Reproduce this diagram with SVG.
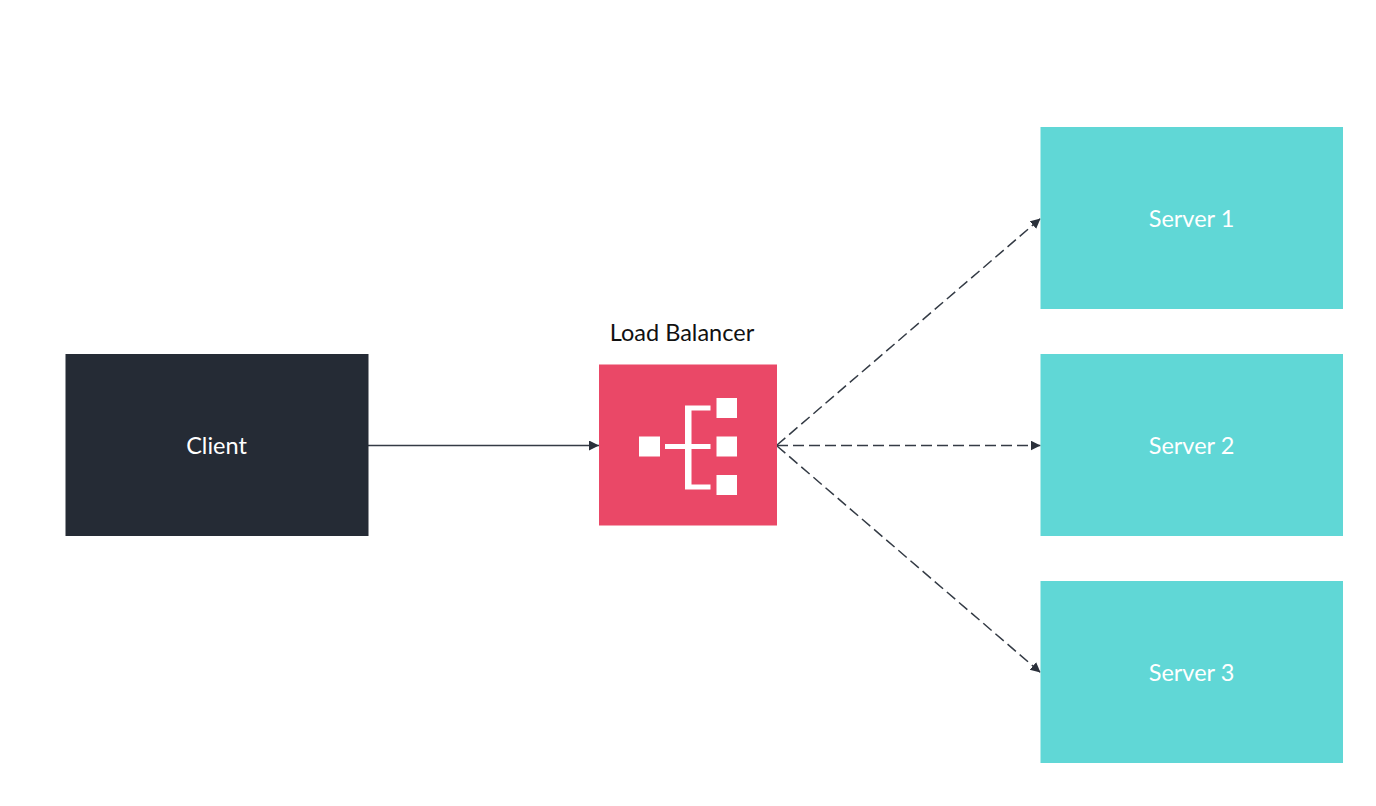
<svg xmlns="http://www.w3.org/2000/svg" width="1376" height="806" viewBox="0 0 1376 806">
  <style>
    .label { font-family: "Lato", "Open Sans", sans-serif; font-size: 23.5px; text-anchor: middle; fill: #ffffff; }
    .server { fill: #60d7d6; }
    .conn { fill: none; stroke: #343b45; stroke-width: 1.5; }
    .dash { stroke-dasharray: 11 5; }
    .icon { fill: #ffffff; }
  </style>
  <defs>
    <marker id="arrow" markerUnits="userSpaceOnUse" markerWidth="12" markerHeight="12" refX="10" refY="5" orient="auto">
      <path d="M0 0 L10 5 L0 10 Z" fill="#2b313b"/>
    </marker>
  </defs>
  <rect width="1376" height="806" fill="#ffffff"/>
  <g id="connectors">
    <line class="conn" x1="368" y1="445.5" x2="599" y2="445.5" marker-end="url(#arrow)"/>
    <line class="conn dash" x1="777" y1="445" x2="1040.5" y2="218.5" marker-end="url(#arrow)"/>
    <line class="conn dash" x1="777" y1="445.5" x2="1040.5" y2="445.5" marker-end="url(#arrow)"/>
    <line class="conn dash" x1="777" y1="446" x2="1040.5" y2="672.5" marker-end="url(#arrow)"/>
  </g>
  <g id="client">
    <rect x="65.5" y="354" width="303" height="182" fill="#252b35"/>
    <text class="label" x="216.5" y="453.5">Client</text>
  </g>
  <g id="load-balancer">
    <text x="682" y="340.5" font-family="Lato, 'Open Sans', sans-serif" font-size="23.5" text-anchor="middle" fill="#111111">Load Balancer</text>
    <rect x="599" y="364.5" width="178" height="161" fill="#ea4867"/>
    <rect class="icon" x="639" y="436.5" width="21" height="20"/>
    <rect class="icon" x="716.5" y="398" width="20.5" height="20"/>
    <rect class="icon" x="716.5" y="436.5" width="20.5" height="20"/>
    <rect class="icon" x="716.5" y="475" width="20.5" height="20"/>
    <path class="icon" d="M665 444 H685 V405.5 H710.5 V410.5 H691.5 V444 H710.5 V449 H691.5 V484.5 H710.5 V489.5 H685 V449 H665 Z"/>
  </g>
  <g id="server-1">
    <rect class="server" x="1040.5" y="127" width="302.5" height="182"/>
    <text class="label" x="1191.5" y="226.5">Server 1</text>
  </g>
  <g id="server-2">
    <rect class="server" x="1040.5" y="354" width="302.5" height="182"/>
    <text class="label" x="1191.5" y="453.5">Server 2</text>
  </g>
  <g id="server-3">
    <rect class="server" x="1040.5" y="581" width="302.5" height="182"/>
    <text class="label" x="1191.5" y="680.5">Server 3</text>
  </g>
</svg>
